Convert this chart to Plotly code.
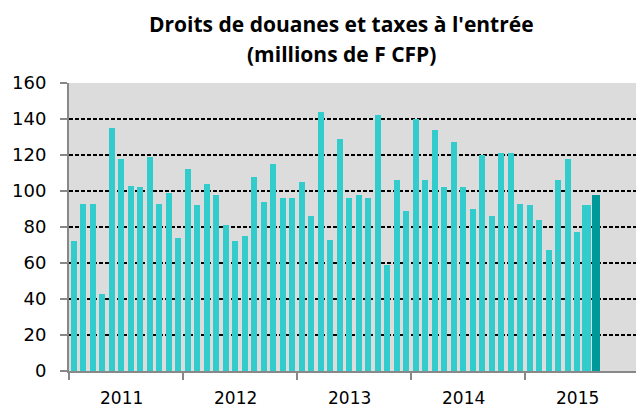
import plotly.graph_objects as go

# Monthly values, Jan 2011 .. Aug 2015 (millions de F CFP)
v2011 = [72, 93, 93, 43, 135, 118, 103, 102, 119, 93, 99, 74]
v2012 = [112, 92, 104, 98, 81, 72, 75, 108, 94, 115, 96, 96]
v2013 = [105, 86, 144, 73, 129, 96, 98, 96, 142, 59, 106, 89]
v2014 = [140, 106, 134, 102, 127, 102, 90, 120, 86, 121, 121, 93]
v2015 = [92, 84, 67, 106, 118, 77, 92, 98]
years = ["2011", "2012", "2013", "2014", "2015"]
y_ticks = [0, 20, 40, 60, 80, 100, 120, 140, 160]
title_lines = ["Droits de douanes et taxes à l'entrée", "(millions de F CFP)"]

values = v2011 + v2012 + v2013 + v2014 + v2015
x = list(range(len(values)))
n = len(values)

cyan = "#33CCCC"
dark = "#009999"
colors = [cyan] * (n - 1) + [dark]
widths = [0.65] * (n - 2) + [0.95, 0.85]

fig = go.Figure()
fig.add_trace(go.Bar(
    x=x, y=values, marker=dict(color=colors, line=dict(width=0)),
    width=widths, showlegend=False, hoverinfo="y",
))

tick_font = "DejaVu Sans, sans-serif"
title_font = "Open Sans, DejaVu Sans, sans-serif"

for i, yr in enumerate(years):
    fig.add_annotation(
        x=i * 12 + 5, y=(371 - 398) / 288, xref="x", yref="paper",
        text=yr, showarrow=False, xanchor="center", yanchor="middle",
        font=dict(family=tick_font, size=17, color="#000000"),
    )

for line, py in zip(title_lines, [24, 54]):
    fig.add_annotation(
        x=(341 - 69) / 567, y=(371 - py) / 288, xref="paper", yref="paper",
        text="<b>" + line + "</b>", showarrow=False,
        xanchor="center", yanchor="middle",
        font=dict(family=title_font, size=21, color="#000000"),
    )

fig.update_layout(
    width=636, height=409,
    margin=dict(l=69, r=0, t=83, b=38),
    paper_bgcolor="#FFFFFF",
    plot_bgcolor="#DCDCDC",
    bargap=0,
    font=dict(family=tick_font, size=18, color="#000000"),
)

fig.update_xaxes(
    range=[-0.5, -0.5 + 567 / 9.5],
    tickmode="array",
    tickvals=[i * 12 - 0.5 for i in range(len(years))],
    ticktext=["" for _ in years],
    ticks="outside", ticklen=7, tickwidth=2, tickcolor="#888888",
    showline=True, linecolor="#888888", linewidth=2,
    showgrid=False, zeroline=False,
)
fig.update_yaxes(
    range=[0, 160],
    tickmode="array", tickvals=y_ticks,
    ticks="outside", ticklen=7, tickwidth=2, tickcolor="#888888",
    ticklabelstandoff=10,
    showline=True, linecolor="#888888", linewidth=2,
    showgrid=True, gridcolor="#000000", gridwidth=1.5, griddash="4px,2px",
    zeroline=False,
    tickfont=dict(family=tick_font, size=18, color="#000000"),
)

fig.write_html("out.html")
